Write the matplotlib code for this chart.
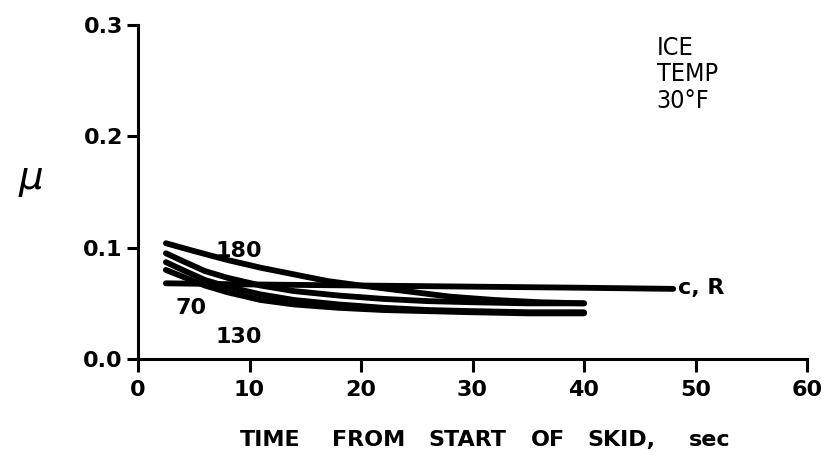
import numpy as np
import matplotlib.pyplot as plt

# friction coefficient vs. time from start of skid, ice at 30 F
t_180 = [2.5, 5, 8, 11, 14, 17, 20, 24, 28, 32, 36, 40]
mu_180 = [0.104, 0.097, 0.089, 0.082, 0.076, 0.070, 0.066, 0.061, 0.056, 0.053, 0.051, 0.050]

t_a = [2.5, 4, 6, 8, 11, 14, 18, 22, 26, 30, 35, 40]
mu_a = [0.095, 0.088, 0.079, 0.073, 0.066, 0.061, 0.057, 0.054, 0.052, 0.051, 0.050, 0.050]

t_70 = [2.5, 4, 6, 8, 11, 14, 18, 22, 26, 30, 35, 40]
mu_70 = [0.087, 0.080, 0.071, 0.065, 0.058, 0.053, 0.049, 0.046, 0.044, 0.043, 0.042, 0.042]

t_130 = [2.5, 4, 6, 8, 11, 14, 18, 22, 26, 30, 35, 40]
mu_130 = [0.080, 0.074, 0.066, 0.060, 0.053, 0.049, 0.046, 0.044, 0.043, 0.042, 0.041, 0.041]

t_cr = [2.5, 10, 20, 30, 40, 48]
mu_cr = [0.068, 0.067, 0.066, 0.065, 0.064, 0.063]

x_ticks = [0, 10, 20, 30, 40, 50, 60]
y_ticks = [0.0, 0.1, 0.2, 0.3]
y_labels = ['0.0', '0.1', '0.2', '0.3']

# axis title words and their centres (figure fraction)
title_words = ['TIME', 'FROM', 'START', 'OF', 'SKID,', 'sec']
title_x = [0.326, 0.445, 0.564, 0.661, 0.749, 0.856]

fig = plt.figure(figsize=(8.29, 4.62), dpi=100)
ax = fig.add_axes([0.1665, 0.2229, 0.807, 0.723])

for t, mu in [(t_180, mu_180), (t_a, mu_a), (t_70, mu_70), (t_130, mu_130), (t_cr, mu_cr)]:
    ax.plot(t, mu, color='black', lw=4.2, solid_capstyle='round', solid_joinstyle='round')

ax.set_xlim(0, 60)
ax.set_ylim(0, 0.3)
ax.spines['top'].set_visible(False)
ax.spines['right'].set_visible(False)
for s in ['left', 'bottom']:
    ax.spines[s].set_linewidth(2.2)

ax.set_xticks(x_ticks)
ax.set_yticks(y_ticks)
ax.set_yticklabels(y_labels)
ax.tick_params(axis='both', width=2.2, length=8, labelsize=16)
ax.tick_params(axis='x', length=9, pad=6)
ax.tick_params(axis='y', pad=3)
for lab in ax.get_xticklabels() + ax.get_yticklabels():
    lab.set_fontweight('bold')

ax.text(9.05, 0.097, '180', fontsize=16, fontweight='bold', ha='center', va='center')
ax.text(4.75, 0.046, '70', fontsize=16, fontweight='bold', ha='center', va='center')
ax.text(9.05, 0.020, '130', fontsize=16, fontweight='bold', ha='center', va='center')
ax.text(48.4, 0.064, 'c, R', fontsize=16, fontweight='bold', ha='left', va='center')

ax.text(46.5, 0.290, 'ICE\nTEMP\n30°F', fontsize=18, ha='left', va='top',
        fontstretch='condensed', linespacing=1.12)

fig.text(0.037, 0.61, r'$\mu$', fontsize=28, ha='center', va='center')
for word, x in zip(title_words, title_x):
    fig.text(x, 0.048, word, fontsize=16, fontweight='bold', ha='center', va='center')

fig.savefig('out.png', dpi=100)
